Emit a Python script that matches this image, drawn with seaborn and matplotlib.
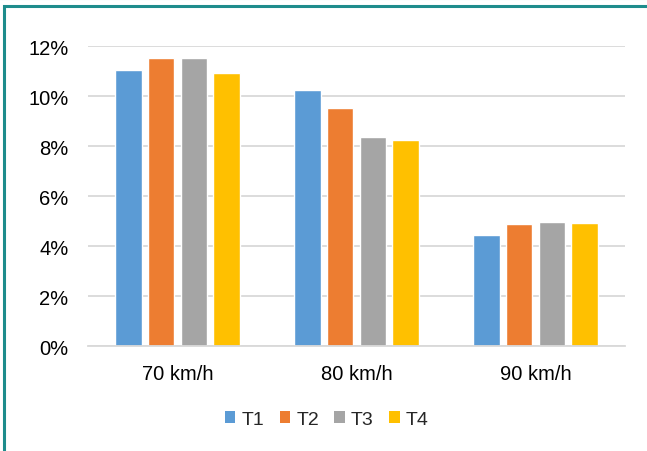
import matplotlib
matplotlib.use("Agg")
import matplotlib.pyplot as plt
from matplotlib.patches import Rectangle, Patch
from matplotlib.ticker import PercentFormatter
import seaborn as sns
import pandas as pd

speeds = ["70 km/h", "80 km/h", "90 km/h"]
series = ["T1", "T2", "T3", "T4"]
values = {
    "T1": [11.05, 10.23, 4.44],
    "T2": [11.52, 9.52, 4.87],
    "T3": [11.52, 8.38, 4.95],
    "T4": [10.92, 8.23, 4.92],
}
colors = ["#5B9BD5", "#ED7D31", "#A5A5A5", "#FFC000"]

rows = []
for s in series:
    for sp, v in zip(speeds, values[s]):
        rows.append({"speed": sp, "series": s, "value": v})
df = pd.DataFrame(rows)

sns.set_style("white")
plt.rcParams["font.family"] = ["Liberation Sans", "DejaVu Sans"]

fig = plt.figure(figsize=(6.47, 4.52), dpi=100)
ax = fig.add_axes([0.136, 0.232, 0.830, 0.664])

sns.barplot(data=df, x="speed", y="value", hue="series", order=speeds,
            hue_order=series, palette=colors, width=0.73, gap=0.2,
            saturation=1, errorbar=None, ax=ax, legend=False)

ax.set_xlim(-0.5, 2.5)
ax.set_ylim(0, 12)
ax.set_yticks(range(0, 13, 2))
ax.yaxis.set_major_formatter(PercentFormatter(decimals=0))
ax.grid(axis="y", color="#D9D9D9", linewidth=1.3)
ax.set_axisbelow(True)
for side in ["top", "right", "left"]:
    ax.spines[side].set_visible(False)
ax.spines["bottom"].set_color("#D9D9D9")
ax.spines["bottom"].set_linewidth(1.3)
ax.tick_params(axis="both", length=0, labelsize=14.5, colors="#000000")
ax.tick_params(axis="x", pad=13)
ax.tick_params(axis="y", pad=14)
ax.set_xlabel("")
ax.set_ylabel("")

handles = [Patch(facecolor=c, edgecolor="none") for c in colors]
fig.legend(handles, series, loc="center", bbox_to_anchor=(0.505, 0.07),
           ncol=4, frameon=False, fontsize=14, handlelength=0.55,
           handleheight=0.55, handletextpad=0.3, columnspacing=0.8)

# teal frame around the chart
fig.patches.append(Rectangle((4 / 647, -0.05), 1.1, 1 - 7 / 452 + 0.05,
                             transform=fig.transFigure, fill=False,
                             edgecolor="#1E8C8C", linewidth=2.2))
fig.lines.append(plt.Line2D([0, 1], [0.999, 0.999], transform=fig.transFigure,
                            color="#A8D8D8", linewidth=1.5))

fig.savefig("out.png", dpi=100)
